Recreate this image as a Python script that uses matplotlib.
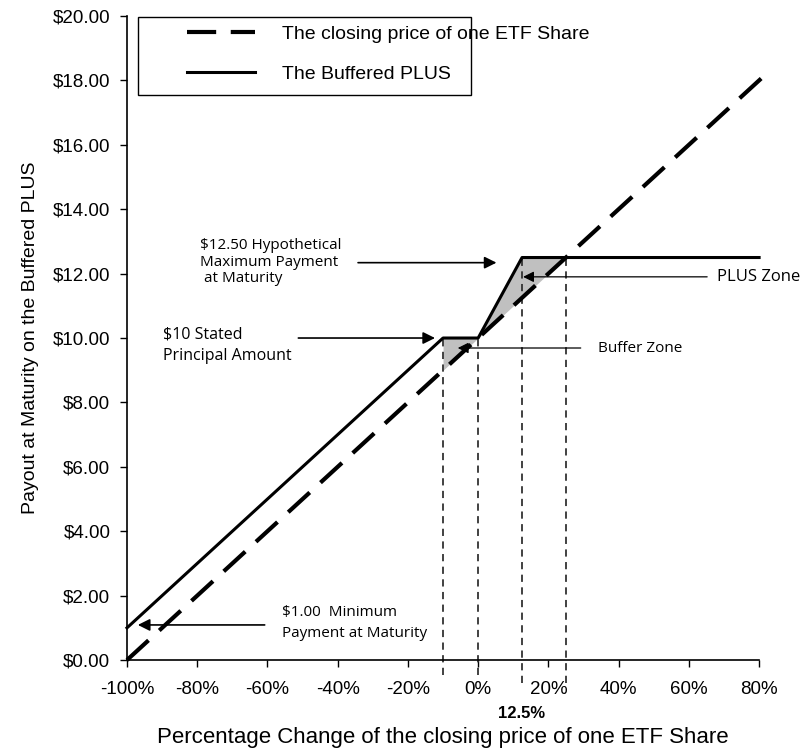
import numpy as np
import matplotlib
matplotlib.use("Agg")
import matplotlib.pyplot as plt
from matplotlib.patches import Rectangle

# percentage change of the ETF closing price
etf_x = [-100, 82.5]
etf_y = [0.0, 18.25]

# Buffered PLUS payout
plus_x = [-100, -40, -10, 0, 12.5, 80]
plus_y = [1.0, 7.0, 10.0, 10.0, 12.5, 12.5]

# zone boundaries (vertical guides)
guide_x = [-10, 0, 12.5, 25]
guide_top = [10.0, 10.0, 12.5, 12.5]
guide_bottom = [-0.45, -0.45, -0.7, -0.7]

x_ticks = [-100, -80, -60, -40, -20, 0, 20, 40, 60, 80]
y_ticks = [0, 2, 4, 6, 8, 10, 12, 14, 16, 18, 20]

plt.rcParams['font.family'] = ['Liberation Sans', 'DejaVu Sans']
note_font = 'Open Sans'

fig = plt.figure(figsize=(8.11, 7.48), dpi=100)
ax = fig.add_axes([0.1566, 0.1176, 0.7794, 0.861])

# shaded zones between the two lines
xb = np.linspace(-10, 0, 20)
ax.fill_between(xb, np.interp(xb, etf_x, etf_y), np.interp(xb, plus_x, plus_y),
                color='#c0c0c0', lw=0, zorder=1)
xp = np.linspace(0, 25, 50)
ax.fill_between(xp, np.interp(xp, etf_x, etf_y), np.interp(xp, plus_x, plus_y),
                color='#c0c0c0', lw=0, zorder=1)

for gx, gt, gb in zip(guide_x, guide_top, guide_bottom):
    ax.plot([gx, gx], [gb, gt], color='#333333', lw=1.3, ls=(0, (4, 3)),
            clip_on=False, zorder=2)

l1, = ax.plot(etf_x, etf_y, color='black', lw=3, dashes=(7, 3.5), clip_on=False,
              zorder=3, label='The closing price of one ETF Share')
l2, = ax.plot(plus_x, plus_y, color='black', lw=2.2, clip_on=False, zorder=4,
              label='The Buffered PLUS')

ax.set_xlim(-100, 80)
ax.set_ylim(0, 20)
ax.set_xticks(x_ticks)
ax.set_xticklabels([f'{t}%' for t in x_ticks])
ax.set_yticks(y_ticks)
ax.set_yticklabels([f'${t:.2f}' for t in y_ticks])
ax.tick_params(labelsize=13.5, length=5, width=1, direction='out')
ax.tick_params(axis='x', pad=10)
ax.tick_params(axis='y', pad=7)
for s in ['top', 'right']:
    ax.spines[s].set_visible(False)
for s in ['left', 'bottom']:
    ax.spines[s].set_linewidth(1.2)

ax.set_xlabel('Percentage Change of the closing price of one ETF Share',
              fontsize=16, labelpad=21)
ax.set_ylabel('Payout at Maturity on the Buffered PLUS', fontsize=14, labelpad=10)
ax.text(12.5, -1.65, '12.5%', ha='center', va='center', fontsize=12,
        fontweight='bold')

# legend: box narrower than the first label, as in the source
fig.patches.append(Rectangle((138 / 811, 1 - 95 / 748), 333 / 811, 78 / 748,
                             transform=fig.transFigure, fill=False,
                             edgecolor='black', lw=1.0))
fig.legend([l1, l2], [l1.get_label(), l2.get_label()],
           loc='upper left', bbox_to_anchor=(187 / 811, 1 - 25 / 748),
           frameon=False, fontsize=14, handlelength=3.5, labelspacing=1.15,
           handletextpad=1.4, borderpad=0.0, borderaxespad=0)

arrow = dict(arrowstyle='-|>', color='black', lw=1.2, mutation_scale=18)
thin = dict(arrowstyle='-|>', color='black', lw=0.9, mutation_scale=16)

ax.annotate('', xy=(6, 12.34), xytext=(-35, 12.34), arrowprops=arrow)
ax.text(-79.2, 12.36, '$12.50 Hypothetical\nMaximum Payment\n at Maturity',
        fontsize=11, family=note_font, va='center', linespacing=1.15)

ax.annotate('', xy=(-11.5, 10.0), xytext=(-52, 10.0), arrowprops=arrow)
ax.text(-89.7, 9.78, '$10 Stated\nPrincipal Amount', fontsize=11.5,
        family=note_font, va='center', linespacing=1.5)

ax.annotate('', xy=(12, 11.9), xytext=(66, 11.9), arrowprops=thin)
ax.text(68, 11.9, 'PLUS Zone', fontsize=12, family=note_font, va='center')

ax.annotate('', xy=(-6.6, 9.69), xytext=(30, 9.69), arrowprops=thin)
ax.text(34.1, 9.69, 'Buffer Zone', fontsize=11, family=note_font, va='center')

ax.annotate('', xy=(-97.7, 1.09), xytext=(-60, 1.09), arrowprops=arrow)
ax.text(-55.9, 1.15, '$1.00  Minimum\nPayment at Maturity', fontsize=11,
        family=note_font, va='center', linespacing=1.5)

fig.savefig('out.png', dpi=100)
